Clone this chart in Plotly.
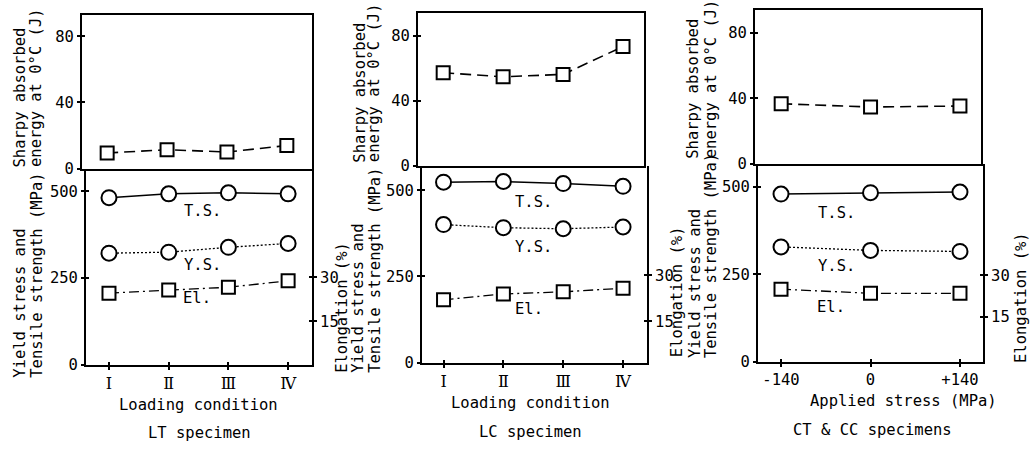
import plotly.graph_objects as go

# ---------------- data ----------------
cond_pos = [1, 2, 3, 4]
cond_labels = ["Ⅰ", "Ⅱ", "Ⅲ", "Ⅳ"]

lt_sharpy = [9.4, 11.4, 10.0, 13.9]
lt_ts = [481, 492, 495, 492]
lt_ys = [321, 324, 338, 349]
lt_el = [24.6, 25.7, 26.6, 28.8]

lc_sharpy = [57.1, 54.6, 56.1, 73.2]
lc_ts = [523, 525, 519, 511]
lc_ys = [400, 391, 388, 393]
lc_el = [22.0, 23.9, 24.6, 25.8]

ct_stress = [-140, 0, 140]
ct_stress_labels = ["-140", "0", "+140"]
ct_sharpy = [36.6, 34.6, 35.2]
ct_ts = [479, 483, 485]
ct_ys = [328, 318, 315]
ct_el = [25.0, 23.5, 23.5]

sharpy_ticks = [0, 40, 80]
strength_ticks = [0, 250, 500]
elong_ticks = [15, 30]

# ---------------- layout helpers ----------------
W, H = 1034, 449
FONT = "DejaVu Sans Mono"
FS = 15.5


def X(px):
    return px / W


def Y(py):
    return 1 - py / H


panels = [
    dict(x=cond_pos, xt=cond_labels, sh=lt_sharpy, ts=lt_ts, ys=lt_ys, el=lt_el,
         top_x=(82, 312), bot_x=(86, 312), top_y=(15, 172), bot_y=(172, 372),
         xr_top=[0.58, 4.42], xr_bot=[0.615, 4.40],
         yr_top=[0, 93], yr_bot=[0, 565], yr_el=[0.3, 67], roman=True),
    dict(x=cond_pos, xt=cond_labels, sh=lc_sharpy, ts=lc_ts, ys=lc_ys, el=lc_el,
         top_x=(418, 644), bot_x=(422, 647), top_y=(13, 169), bot_y=(169, 370),
         xr_top=[0.58, 4.35], xr_bot=[0.64, 4.40],
         yr_top=[0, 94], yr_bot=[0, 571], yr_el=[1.4, 66], roman=True),
    dict(x=ct_stress, xt=ct_stress_labels, sh=ct_sharpy, ts=ct_ts, ys=ct_ys, el=ct_el,
         top_x=(755, 981), bot_x=(758, 983), top_y=(10, 167), bot_y=(167, 369),
         xr_top=[-181, 173], xr_bot=[-176, 176],
         yr_top=[0, 94], yr_bot=[0, 566], yr_el=[-1.2, 70.4], roman=False),
]

fig = go.Figure()
layout = {}
counter = {"x": 0, "y": 0}


def new_axis(kind):
    counter[kind] += 1
    n = counter[kind]
    key = f"{kind}axis" if n == 1 else f"{kind}axis{n}"
    ref = kind if n == 1 else f"{kind}{n}"
    return key, ref


tickfont = dict(family=FONT, size=FS, color="black")
base = dict(showgrid=False, zeroline=False, linecolor="black", linewidth=2,
            tickcolor="black", tickwidth=1.5, fixedrange=True)

marker_sq = dict(symbol="square", size=13, color="white", line=dict(color="black", width=2))
marker_ci = dict(symbol="circle", size=15, color="white", line=dict(color="black", width=2))

for p in panels:
    xa_k, xa = new_axis("x")
    xb_k, xb = new_axis("x")
    xbi_k, xbi = new_axis("x")
    ya_k, ya = new_axis("y")
    yai_k, yai = new_axis("y")
    yb_k, yb = new_axis("y")
    ybi_k, ybi = new_axis("y")
    yc_k, yc = new_axis("y")
    yci_k, yci = new_axis("y")

    tdom = [Y(p["top_y"][1]), Y(p["top_y"][0])]
    bdom = [Y(p["bot_y"][1]), Y(p["bot_y"][0])]
    txd = [X(p["top_x"][0]), X(p["top_x"][1])]
    bxd = [X(p["bot_x"][0]), X(p["bot_x"][1])]

    # top panel
    layout[xa_k] = dict(base, domain=txd, range=p["xr_top"], anchor=ya, showline=True,
                        mirror=True, ticks="", showticklabels=False)
    layout[ya_k] = dict(base, domain=tdom, range=p["yr_top"], anchor=xa, showline=True,
                        mirror=True, ticks="outside", ticklen=3, tickvals=sharpy_ticks,
                        tickfont=tickfont)
    layout[yai_k] = dict(base, domain=tdom, range=p["yr_top"], anchor=xa, overlaying=ya,
                         showline=False, ticks="inside", ticklen=3, tickvals=sharpy_ticks,
                         showticklabels=False)

    # bottom panel
    xfont = dict(family="DejaVu Serif", size=16, color="black") if p["roman"] else tickfont
    layout[xb_k] = dict(base, domain=bxd, range=p["xr_bot"], anchor=yb, showline=True,
                        mirror=False, ticks="outside", ticklen=3, tickvals=p["x"],
                        ticktext=p["xt"], tickfont=xfont)
    layout[xbi_k] = dict(base, domain=bxd, range=p["xr_bot"], anchor=yb, overlaying=xb,
                         showline=False, ticks="inside", ticklen=3, tickvals=p["x"],
                         showticklabels=False)
    layout[yb_k] = dict(base, domain=bdom, range=p["yr_bot"], anchor=xb, showline=True,
                        ticks="outside", ticklen=3, tickvals=strength_ticks, tickfont=tickfont)
    layout[ybi_k] = dict(base, domain=bdom, range=p["yr_bot"], anchor=xb, overlaying=yb,
                         showline=False, ticks="inside", ticklen=3, tickvals=strength_ticks,
                         showticklabels=False)
    layout[yc_k] = dict(base, domain=bdom, range=p["yr_el"], anchor=xb, overlaying=yb,
                        side="right", showline=True, ticks="outside", ticklen=3,
                        tickvals=elong_ticks, tickfont=tickfont)
    layout[yci_k] = dict(base, domain=bdom, range=p["yr_el"], anchor=xb, overlaying=yb,
                         side="right", showline=False, ticks="inside", ticklen=3,
                         tickvals=elong_ticks, showticklabels=False)

    # empty traces so that the tick-overlay axes get drawn
    fig.add_trace(go.Scatter(x=[None], y=[None], xaxis=xa, yaxis=yai, showlegend=False,
                             hoverinfo="skip"))
    fig.add_trace(go.Scatter(x=[None], y=[None], xaxis=xbi, yaxis=ybi, showlegend=False,
                             hoverinfo="skip"))
    fig.add_trace(go.Scatter(x=[None], y=[None], xaxis=xb, yaxis=yci, showlegend=False,
                             hoverinfo="skip"))

    # data traces
    fig.add_trace(go.Scatter(x=p["x"], y=p["sh"], xaxis=xa, yaxis=ya, mode="lines+markers",
                             line=dict(color="black", width=1.6, dash="11px,6px"),
                             marker=marker_sq, showlegend=False))
    fig.add_trace(go.Scatter(x=p["x"], y=p["ts"], xaxis=xb, yaxis=yb, mode="lines+markers",
                             line=dict(color="black", width=1.5),
                             marker=marker_ci, showlegend=False))
    fig.add_trace(go.Scatter(x=p["x"], y=p["ys"], xaxis=xb, yaxis=yb, mode="lines+markers",
                             line=dict(color="black", width=1.3, dash="2px,2px"),
                             marker=marker_ci, showlegend=False))
    fig.add_trace(go.Scatter(x=p["x"], y=p["el"], xaxis=xb, yaxis=yc, mode="lines+markers",
                             line=dict(color="black", width=1.3, dash="10px,4px,2px,4px"),
                             marker=marker_sq, showlegend=False))

# ---------------- text ----------------
annotations = []


def txt(s, px, py, angle=0, xanchor="center", yanchor="middle", size=FS):
    annotations.append(dict(text=s, x=X(px), y=Y(py), xref="paper", yref="paper",
                            showarrow=False, textangle=angle, xanchor=xanchor,
                            yanchor=yanchor, font=dict(family=FONT, size=size, color="black")))


# horizontal labels
txt("Loading condition", 198, 413)
txt("LT specimen", 199, 442)
txt("Loading condition", 530, 411)
txt("LC specimen", 530, 441)
txt("Applied stress (MPa)", 903, 409)
txt("CT &amp; CC specimens", 872, 439)

for s, px, py in [("T.S.", 202, 215), ("Y.S.", 202, 270), ("El.", 197, 304),
                  ("T.S.", 533, 206), ("Y.S.", 533, 252), ("El.", 529, 315),
                  ("T.S.", 836, 217), ("Y.S.", 836, 271), ("El.", 831, 313)]:
    txt(s, px, py)

# rotated axis titles
for s, px, py in [("Sharpy absorbed", 20, 173), ("energy at 0°C (J)", 36, 173),
                  ("Yield stress and", 20, 388), ("Tensile strength (MPa)", 37, 388),
                  ("Elongation (%)", 342, 383),
                  ("Sharpy absorbed", 360, 168), ("energy at 0°C (J)", 374, 168),
                  ("Yield stress and", 358, 383), ("Tensile strength (MPa)", 375, 383),
                  ("Elongation (%)", 677, 367),
                  ("Sharpy absorbed", 693, 164), ("energy at 0°C (J)", 711, 164),
                  ("Yield stress and", 695, 368), ("Tensile strength (MPa)", 711, 368),
                  ("Elongation (%)", 1021, 373)]:
    txt(s, px, py, angle=-90, yanchor="bottom")

fig.update_layout(**layout)
fig.update_layout(width=W, height=H, margin=dict(l=0, r=0, t=0, b=0),
                  paper_bgcolor="white", plot_bgcolor="white",
                  annotations=annotations, showlegend=False,
                  font=dict(family=FONT, size=FS, color="black"))

fig.write_html("out.html", config={"displayModeBar": False},
               post_script="document.body.style.margin='0';document.body.style.overflow='hidden';")
